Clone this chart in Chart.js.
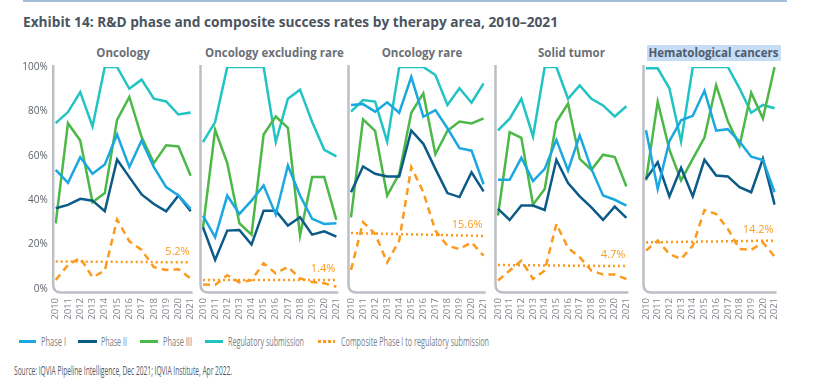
<!DOCTYPE html>
<html><head><meta charset="utf-8">
<script src="https://cdn.jsdelivr.net/npm/chart.js@4.4.1/dist/chart.umd.min.js"></script>
<style>
body{margin:0;width:832px;height:388px;background:#fff;position:relative;overflow:hidden;font-family:"Open Sans",sans-serif}
.topline{position:absolute;left:23px;top:0;width:764px;height:2px;background:#a3c0d8}
#title{position:absolute;left:23px;top:12px;font-weight:700;font-size:14px;line-height:19px;color:#4b5461;white-space:nowrap;transform-origin:left center}
.ptitle{position:absolute;top:45px;font-weight:700;font-size:11.5px;line-height:16px;color:#6a6f77;white-space:nowrap;transform:translateX(-50%)}
.ptitle.hl{background:#c6ddf6;color:#4f5b6e;padding:0 2px}
canvas{position:absolute}
.lg{position:absolute;top:332px;height:18px;font-size:13.5px;line-height:18px;color:#7a7f87;white-space:nowrap;transform-origin:left center}
.sw{position:absolute;top:340px;height:3px}
#src{position:absolute;left:14px;top:362px;font-size:12px;line-height:17px;color:#555a61;white-space:nowrap;transform-origin:left center}
</style></head>
<body>
<div class="topline"></div>
<div id="title">Exhibit 14: R&amp;D phase and composite success rates by therapy area, 2010–2021</div>
<div id="titles"></div>
<div id="legend"></div>
<div id="src">Source: IQVIA Pipeline Intelligence, Dec 2021; IQVIA Institute, Apr 2022.</div>
<script>
// ---------- DATA ----------
const years = ['2010','2011','2012','2013','2014','2015','2016','2017','2018','2019','2020','2021'];
const yTicks = [0, 20, 40, 60, 80, 100];

const oncology_phase1 = [53.7, 47.8, 59.4, 51.9, 56.1, 69.6, 54.9, 66.9, 54.9, 45.9, 42.1, 36.1];
const oncology_phase2 = [36.4, 37.9, 40.6, 39.8, 35.0, 58.3, 50.4, 42.6, 38.3, 35.0, 42.1, 35.0];
const oncology_phase3 = [29.6, 74.7, 66.9, 39.1, 43.2, 76.2, 86.5, 68.4, 56.7, 64.7, 64.2, 51.0];
const oncology_reg    = [74.7, 79.7, 88.7, 73.2, 100, 100, 90.2, 94.3, 85.7, 84.5, 78.6, 79.5];
const oncology_comp   = [4.1, 10.8, 14.0, 5.3, 8.3, 31.3, 21.5, 17.6, 9.8, 8.6, 8.9, 4.8];
const oncology_trend  = [12.4, null, null, null, null, null, null, null, null, null, null, 12.0];

const onxr_phase1 = [33.1, 23.3, 42.1, 33.8, 39.8, 46.6, 33.5, 55.6, 42.1, 31.6, 29.3, 29.6];
const onxr_phase2 = [27.8, 13.1, 26.3, 26.6, 20.0, 35.3, 35.3, 28.6, 32.3, 24.5, 26.0, 23.6];
const onxr_phase3 = [27.8, 71.7, 56.7, 29.6, 24.5, 69.6, 77.7, 72.6, 24.1, 50.4, 50.4, 31.1];
const onxr_reg    = [66.2, 75.2, 100, 100, 100, 100, 66.2, 85.7, 89.8, 75.2, 62.7, 59.7];
const onxr_comp   = [2.0, 1.8, 6.2, 3.0, 4.0, 11.6, 7.0, 10.0, 4.8, 3.2, 2.6, 1.0];
const onxr_trend  = [4.0, null, null, null, null, null, null, null, null, null, null, 4.0];

const onrare_phase1 = [82.9, 83.3, 79.9, 84.1, 79.4, 95.6, 77.6, 80.6, 72.4, 63.4, 62.3, 47.2];
const onrare_phase2 = [43.6, 55.2, 51.9, 50.7, 50.7, 71.4, 65.4, 54.1, 43.2, 41.4, 52.6, 44.0];
const onrare_phase3 = [32.3, 76.4, 71.2, 42.1, 51.9, 79.4, 88.1, 60.7, 71.3, 75.4, 74.6, 76.9];
const onrare_reg    = [79.9, 85.1, 84.4, 66.4, 100, 100, 100, 96.4, 82.9, 90.4, 83.9, 92.6];
const onrare_comp   = [8.6, 30.1, 24.8, 12.0, 21.8, 54.9, 43.6, 26.3, 19.5, 18.0, 21.0, 15.0];
const onrare_trend  = [25.2, null, null, null, null, null, null, null, null, null, null, 23.9];

const solid_phase1 = [49.2, 49.2, 59.1, 48.6, 54.1, 67.2, 53.4, 69.2, 54.1, 42.1, 40.2, 37.6];
const solid_phase2 = [36.1, 31.1, 37.6, 37.6, 35.6, 58.2, 47.7, 41.7, 36.8, 31.1, 37.1, 32.0];
const solid_phase3 = [33.1, 70.7, 68.1, 38.0, 45.1, 75.2, 83.5, 58.6, 53.7, 60.5, 59.4, 46.2];
const solid_reg    = [71.4, 76.7, 85.7, 68.7, 100, 100, 85.7, 91.7, 85.7, 82.7, 77.7, 82.3];
const solid_comp   = [3.8, 8.3, 12.8, 4.5, 8.3, 29.3, 18.5, 14.3, 8.3, 6.5, 6.5, 4.5];
const solid_trend  = [10.8, null, null, null, null, null, null, null, null, null, null, 10.3];

const hema_phase1 = [71.5, 45.1, 66.6, 76.0, 78.0, 89.3, 71.3, 72.0, 66.4, 59.6, 58.1, 43.6];
const hema_phase2 = [49.6, 57.1, 41.7, 54.6, 41.7, 58.2, 51.1, 50.7, 45.9, 43.6, 58.6, 38.0];
const hema_phase3 = [48.9, 84.4, 62.8, 48.9, 58.6, 68.2, 91.8, 75.6, 64.6, 88.4, 76.8, 100];
const hema_reg    = [99.4, 99.4, 90.4, 66.4, 100, 100, 100, 100, 90.4, 79.4, 82.9, 81.4];
const hema_comp   = [17.3, 21.8, 15.8, 13.5, 19.5, 35.6, 33.8, 27.1, 18.0, 17.6, 21.0, 14.6];
const hema_trend  = [21.0, null, null, null, null, null, null, null, null, null, null, 21.8];

const panelTitles = ['Oncology', 'Oncology excluding rare', 'Oncology rare', 'Solid tumor', 'Hematological cancers'];
const endLabels   = ['5.2%', '1.4%', '15.6%', '4.7%', '14.2%'];
const seriesNames = ['Phase I', 'Phase II', 'Phase III', 'Regulatory submission', 'Composite Phase I to regulatory submission'];

// ---------- LAYOUT / STYLE ----------
const COL = {p1:'#1ba8e0', p2:'#0b5a88', p3:'#4cb847', reg:'#22c3c3', comp:'#fb9a1e'};
const panelData = [
  [oncology_phase1, oncology_phase2, oncology_phase3, oncology_reg, oncology_comp, oncology_trend],
  [onxr_phase1, onxr_phase2, onxr_phase3, onxr_reg, onxr_comp, onxr_trend],
  [onrare_phase1, onrare_phase2, onrare_phase3, onrare_reg, onrare_comp, onrare_trend],
  [solid_phase1, solid_phase2, solid_phase3, solid_reg, solid_comp, solid_trend],
  [hema_phase1, hema_phase2, hema_phase3, hema_reg, hema_comp, hema_trend]
];
const panelX = [[55.7,190.7],[203.3,336.7],[350.7,483.3],[498.3,626.7],[645.7,774.3]];
const titleCX = [123, 274.5, 422, 571.5, 713.5];
const TOP = 67, ZERO = 289, XH = 40, CT = 40;

const framePlugin = {
  id:'frame',
  afterDraw(chart, args, opts){
    const ctx = chart.ctx, a = chart.chartArea;
    ctx.save();
    ctx.strokeStyle = '#bcc0c6'; ctx.lineWidth = 2.5; ctx.setLineDash([]);
    const l = a.left - 2.5, b = a.bottom + 3.5, r = a.right + 2, t = a.top - 2, rad = 8;
    ctx.beginPath(); ctx.moveTo(l, t); ctx.lineTo(l, b - rad); ctx.quadraticCurveTo(l, b, l + rad, b); ctx.lineTo(r, b); ctx.stroke();
    const tr = chart.data.datasets[5].data;
    const y = chart.scales.y.getPixelForValue(tr[tr.length-1]) - 11;
    ctx.fillStyle = COL.comp; ctx.font = '11px "Open Sans"'; ctx.textAlign = 'right'; ctx.textBaseline = 'middle';
    ctx.fillText(opts.text, a.right - 1, y);
    ctx.restore();
  }
};

function makePanel(i){
  const [x0, x1] = panelX[i];
  const hasY = i === 0;
  const left = hasY ? 0 : x0 - 10;
  const width = Math.round(x1 + 10 - left);
  const height = ZERO + XH - CT;
  const c = document.createElement('canvas');
  c.width = width; c.height = height;
  c.style.left = left + 'px'; c.style.top = CT + 'px';
  c.style.width = width + 'px'; c.style.height = height + 'px';
  document.body.appendChild(c);
  const d = panelData[i];
  const ds = (data, color, extra) => Object.assign({data, borderColor:color, backgroundColor:color, borderWidth:2.5, pointRadius:0, tension:0, fill:false}, extra||{});
  new Chart(c, {
    type:'line',
    data:{labels:years, datasets:[
      ds(d[0], COL.p1, {label:seriesNames[0]}),
      ds(d[1], COL.p2, {label:seriesNames[1]}),
      ds(d[2], COL.p3, {label:seriesNames[2]}),
      ds(d[3], COL.reg, {label:seriesNames[3]}),
      ds(d[4], COL.comp, {label:seriesNames[4], borderDash:[7,5]}),
      ds(d[5], COL.comp, {label:'trend', borderDash:[2,3], spanGaps:true, borderWidth:2.5})
    ]},
    options:{
      responsive:false, animation:false, devicePixelRatio:1,
      layout:{padding:{left: hasY ? 0 : (x0 - left), right: width - (x1 - left), top: TOP - CT, bottom:0}},
      plugins:{legend:{display:false}, tooltip:{enabled:false}, frame:{text:endLabels[i]}},
      scales:{
        x:{offset:false, grid:{display:false, drawTicks:false}, border:{display:false},
           ticks:{autoSkip:false, maxRotation:90, minRotation:90, padding:9, color:'#80858c', font:{family:'"Open Sans"', size:9.5}},
           afterFit(s){ s.height = XH; s.paddingLeft = 0; s.paddingRight = 0; }},
        y:{display:hasY, min:0, max:100, grid:{display:false, drawTicks:false}, border:{display:false},
           afterBuildTicks(s){ s.ticks = yTicks.map(v => ({value:v})); },
           ticks:{padding:8, color:'#5d6269', font:{family:'"Open Sans"', size:10}, callback:v => v + '%'},
           afterFit(s){ if (hasY) s.width = x0; else s.width = 0; s.paddingTop = 0; s.paddingBottom = 0; }}
      }
    },
    plugins:[framePlugin]
  });
}

// titles
const tw = document.getElementById('titles');
panelTitles.forEach((t, i) => {
  const e = document.createElement('div');
  e.className = 'ptitle' + (i === 4 ? ' hl' : '');
  e.textContent = t; e.style.left = titleCX[i] + 'px';
  tw.appendChild(e);
});
for (let i = 0; i < 5; i++) makePanel(i);

// legend
const lgItems = [
  {sw:[19,36], tx:[41,66], color:COL.p1},
  {sw:[78,97], tx:[101,127], color:COL.p2},
  {sw:[140,158], tx:[163,192], color:COL.p3},
  {sw:[205,223], tx:[228,304], color:COL.reg},
  {sw:[318,335], tx:[341,489], color:COL.comp, dotted:true}
];
function fitW(el, target){ const w = el.getBoundingClientRect().width; if (w > 0) el.style.transform = 'scaleX(' + (target / w) + ')'; }
const lg = document.getElementById('legend');
lgItems.forEach((it, i) => {
  const s = document.createElement('div'); s.className = 'sw';
  s.style.left = it.sw[0] + 'px'; s.style.width = (it.sw[1] - it.sw[0]) + 'px';
  s.style.background = it.dotted ? `repeating-linear-gradient(90deg, ${it.color} 0 3px, transparent 3px 5px)` : it.color;
  lg.appendChild(s);
  const t = document.createElement('div'); t.className = 'lg';
  t.textContent = seriesNames[i]; t.style.left = it.tx[0] + 'px';
  lg.appendChild(t);
  fitW(t, it.tx[1] - it.tx[0]);
});
fitW(document.getElementById('src'), 218);
fitW(document.getElementById('title'), 535);
</script>
</body></html>
